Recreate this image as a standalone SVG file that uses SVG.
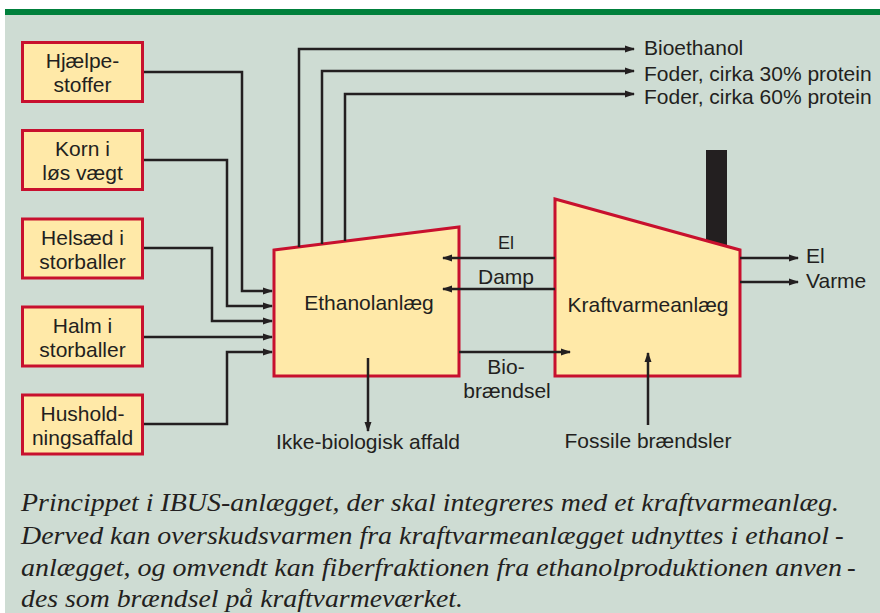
<svg xmlns="http://www.w3.org/2000/svg" width="880" height="613" viewBox="0 0 880 613">
<style>
.box{fill:#FFE9A8;stroke:#C8102E;stroke-width:3}
.lbl{font-family:"Liberation Sans",Arial,sans-serif;font-size:21px;fill:#231F20}
.mid{text-anchor:middle}
.ln{fill:none;stroke:#231F20;stroke-width:2.5;marker-end:url(#ah)}
.cap{font-family:"Liberation Serif","Times New Roman",serif;font-style:italic;font-size:26px;fill:#231F20}
</style>
<defs>
<marker id="ah" markerUnits="userSpaceOnUse" markerWidth="10" markerHeight="8" refX="9" refY="4" orient="auto">
<path d="M0,0.5 L10,4 L0,7.5 Z" fill="#231F20"/>
</marker>
</defs>
<rect x="0" y="0" width="880" height="613" fill="#FFFFFF"/>
<rect x="5" y="14" width="875" height="599" fill="#CEDCD3"/>
<rect x="5" y="9" width="875" height="6" fill="#00803C"/>

<g id="chimney"><rect x="706" y="150" width="21" height="100" fill="#231F20"/></g>

<g id="hjaelpestoffer">
<rect class="box" x="22.5" y="42.5" width="120" height="59"/>
<text class="lbl mid" x="82.5" y="68">Hjælpe-</text>
<text class="lbl mid" x="82.5" y="92">stoffer</text>
</g>
<g id="korn">
<rect class="box" x="22.5" y="130.5" width="120" height="59"/>
<text class="lbl mid" x="82.5" y="156">Korn i</text>
<text class="lbl mid" x="82.5" y="180">løs vægt</text>
</g>
<g id="helsaed">
<rect class="box" x="22.5" y="219" width="120" height="59"/>
<text class="lbl mid" x="82.5" y="245">Helsæd i</text>
<text class="lbl mid" x="82.5" y="269">storballer</text>
</g>
<g id="halm">
<rect class="box" x="22.5" y="307" width="120" height="59"/>
<text class="lbl mid" x="82.5" y="333">Halm i</text>
<text class="lbl mid" x="82.5" y="357">storballer</text>
</g>
<g id="husholdningsaffald">
<rect class="box" x="22.5" y="395" width="120" height="59"/>
<text class="lbl mid" x="82.5" y="421">Hushold-</text>
<text class="lbl mid" x="82.5" y="445">ningsaffald</text>
</g>

<g id="ethanolanlaeg">
<polygon class="box" points="274,250 459,227 459,376 274,376"/>
<text class="lbl mid" x="369" y="310">Ethanolanlæg</text>
</g>
<g id="kraftvarmeanlaeg">
<polygon class="box" points="555,199 740,250 740,376 555,376"/>
<text class="lbl mid" x="648" y="312">Kraftvarmeanlæg</text>
</g>

<g id="connectors">
<path class="ln" d="M144,72 H242 V291 H272"/>
<path class="ln" d="M144,160 H227 V306 H272"/>
<path class="ln" d="M144,248 H212 V321 H272"/>
<path class="ln" d="M144,337 H272"/>
<path class="ln" d="M144,424 H227 V352 H272"/>
<path class="ln" d="M299,247 V49 H634"/>
<path class="ln" d="M322,244 V71 H634"/>
<path class="ln" d="M345,241 V94 H634"/>
<path class="ln" d="M555,258 H443"/>
<path class="ln" d="M555,289 H443"/>
<path class="ln" d="M459,352 H570"/>
<path class="ln" d="M368,358 V431"/>
<path class="ln" d="M648,425 V353"/>
<path class="ln" d="M740,258 H798"/>
<path class="ln" d="M740,282 H798"/>
</g>

<g id="labels">
<text class="lbl" x="644" y="55">Bioethanol</text>
<text class="lbl" x="644" y="81">Foder, cirka 30% protein</text>
<text class="lbl" x="644" y="104">Foder, cirka 60% protein</text>
<text class="lbl mid" x="506" y="249" style="font-size:18px">El</text>
<text class="lbl mid" x="506" y="284">Damp</text>
<text class="lbl mid" x="506" y="374">Bio-</text>
<text class="lbl mid" x="507" y="398">brændsel</text>
<text class="lbl mid" x="368" y="449">Ikke-biologisk affald</text>
<text class="lbl mid" x="648" y="448">Fossile brændsler</text>
<text class="lbl" x="806" y="263">El</text>
<text class="lbl" x="806" y="288">Varme</text>
</g>

<g id="caption">
<text class="cap" x="21" y="511" textLength="818" lengthAdjust="spacingAndGlyphs">Princippet i IBUS-anlægget, der skal integreres med et kraftvarmeanlæg.</text>
<text class="cap" x="21" y="544" textLength="808" lengthAdjust="spacingAndGlyphs">Derved kan overskudsvarmen fra kraftvarmeanlægget udnyttes i ethanol</text>
<text class="cap" x="835" y="544">-</text>
<text class="cap" x="21" y="576" textLength="821" lengthAdjust="spacingAndGlyphs">anlægget, og omvendt kan fiberfraktionen fra ethanolproduktionen anven</text>
<text class="cap" x="847" y="576">-</text>
<text class="cap" x="21" y="607" textLength="442" lengthAdjust="spacingAndGlyphs">des som brændsel på kraftvarmeværket.</text>
</g>
</svg>
